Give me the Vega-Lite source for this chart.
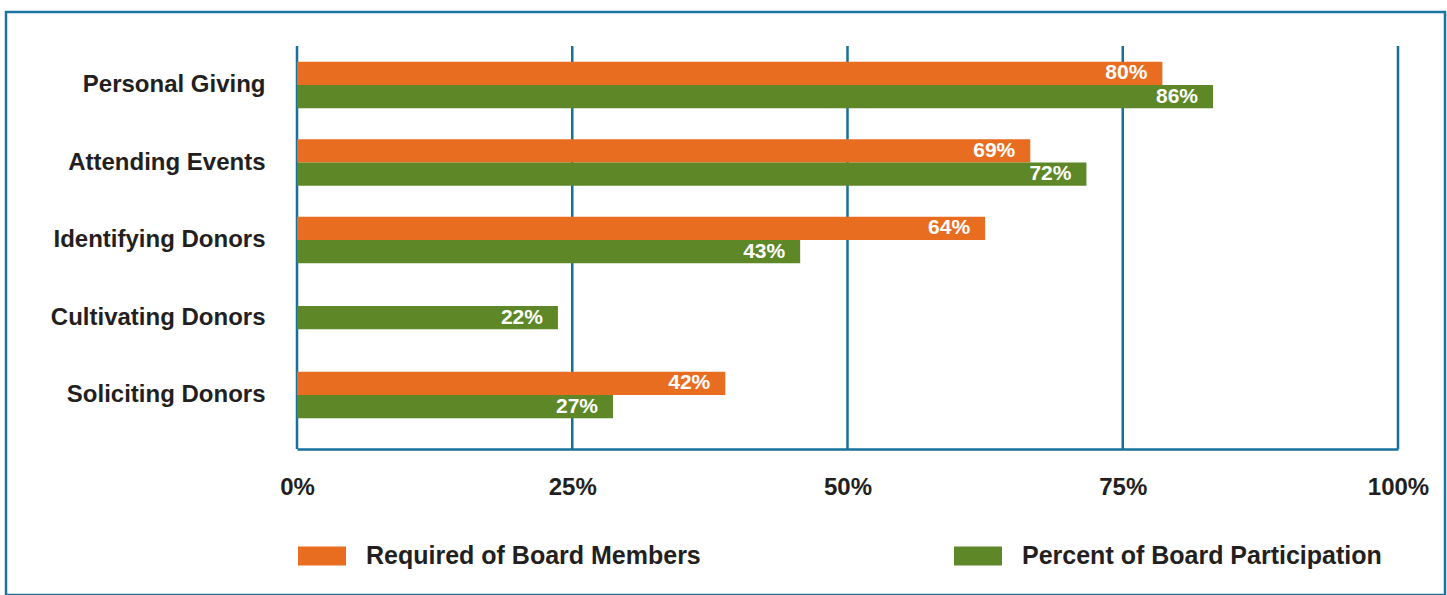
{
  "$schema": "https://vega.github.io/schema/vega-lite/v6.json",
  "width": 1439,
  "height": 583,
  "autosize": {"type": "none"},
  "padding": {"left": 6, "top": 12, "right": 2, "bottom": 0},
  "background": "white",
  "config": {
    "view": {"stroke": "#1C74A0", "strokeWidth": 2.5},
    "font": "Liberation Sans"
  },
  "data": {
    "values": [
      {"category": "Personal Giving", "series": "Required of Board Members", "pct": 78.6, "label": "80%"},
      {"category": "Personal Giving", "series": "Percent of Board Participation", "pct": 83.2, "label": "86%"},
      {"category": "Attending Events", "series": "Required of Board Members", "pct": 66.6, "label": "69%"},
      {"category": "Attending Events", "series": "Percent of Board Participation", "pct": 71.7, "label": "72%"},
      {"category": "Identifying Donors", "series": "Required of Board Members", "pct": 62.5, "label": "64%"},
      {"category": "Identifying Donors", "series": "Percent of Board Participation", "pct": 45.7, "label": "43%"},
      {"category": "Cultivating Donors", "series": "Percent of Board Participation", "pct": 23.7, "label": "22%"},
      {"category": "Soliciting Donors", "series": "Required of Board Members", "pct": 38.9, "label": "42%"},
      {"category": "Soliciting Donors", "series": "Percent of Board Participation", "pct": 28.7, "label": "27%"}
    ]
  },
  "encoding": {
    "x": {
      "field": "pct",
      "type": "quantitative",
      "scale": {"domain": [0, 100], "range": [291, 1392], "nice": false, "zero": true},
      "title": null,
      "axis": {
        "orient": "bottom",
        "offset": -146,
        "values": [0, 25, 50, 75, 100],
        "labelExpr": "datum.value + '%'",
        "labelFlush": false,
        "domain": true,
        "domainColor": "#17709A",
        "domainWidth": 2.5,
        "ticks": false,
        "grid": false,
        "labelPadding": 26,
        "labelFontSize": 24,
        "labelFont": "Liberation Sans",
        "labelFontWeight": "bold",
        "labelColor": "#231F20"
      }
    }
  },
  "layer": [
    {
      "data": {"values": [{"pct": 0}, {"pct": 25}, {"pct": 50}, {"pct": 75}, {"pct": 100}]},
      "mark": {"type": "rule", "strokeWidth": 2.5, "color": "#17709A"},
      "encoding": {
        "y": {"datum": 0, "type": "quantitative", "scale": {"domain": [0, 1], "range": [34, 437], "nice": false, "zero": false}, "axis": null},
        "y2": {"datum": 1}
      }
    },
    {
      "encoding": {
        "y": {
          "field": "category",
          "type": "nominal",
          "sort": ["Personal Giving", "Attending Events", "Identifying Donors", "Cultivating Donors", "Soliciting Donors"],
          "scale": {"range": [34, 437], "paddingInner": 0.4, "paddingOuter": 0.3, "align": 0.339},
          "title": null,
          "axis": {
            "orient": "left",
            "offset": -291,
            "domain": false,
            "ticks": false,
            "grid": false,
            "labelPadding": 32,
            "labelFontSize": 24,
            "labelFont": "Liberation Sans",
            "labelFontWeight": "bold",
            "labelColor": "#231F20",
            "labelLimit": 400
          }
        },
        "color": {
          "field": "series",
          "type": "nominal",
          "scale": {
            "domain": ["Required of Board Members", "Percent of Board Participation"],
            "range": ["#E96D20", "#5E8728"]
          },
          "legend": {
            "orient": "none",
            "legendX": 292,
            "legendY": 520,
            "direction": "horizontal",
            "title": null,
            "symbolType": "M-1,-0.4H1V0.4H-1Z",
            "symbolSize": 2304,
            "symbolStrokeWidth": 0,
            "symbolOpacity": 1,
            "labelFontSize": 25,
            "labelFont": "Liberation Sans",
            "labelFontWeight": "bold",
            "labelColor": "#231F20",
            "labelOffset": 20,
            "columnPadding": 253,
            "labelLimit": 600
          }
        }
      },
      "layer": [
        {
          "transform": [
            {"joinaggregate": [{"op": "count", "as": "n"}], "groupby": ["category"]},
            {"filter": "datum.n == 2"}
          ],
          "mark": {"type": "bar", "opacity": 1},
          "encoding": {
            "yOffset": {
              "field": "series",
              "type": "nominal",
              "scale": {"domain": ["Required of Board Members", "Percent of Board Participation"], "paddingInner": 0, "paddingOuter": 0}
            }
          }
        },
        {
          "transform": [
            {"joinaggregate": [{"op": "count", "as": "n"}], "groupby": ["category"]},
            {"filter": "datum.n == 2"}
          ],
          "mark": {"type": "text", "align": "right", "baseline": "middle", "dx": -15, "fontSize": 21, "fontWeight": "bold", "font": "Liberation Sans"},
          "encoding": {
            "yOffset": {
              "field": "series",
              "type": "nominal",
              "scale": {"domain": ["Required of Board Members", "Percent of Board Participation"], "paddingInner": 0, "paddingOuter": 0}
            },
            "text": {"field": "label", "type": "nominal"},
            "color": {"value": "white"}
          }
        },
        {
          "transform": [
            {"joinaggregate": [{"op": "count", "as": "n"}], "groupby": ["category"]},
            {"filter": "datum.n == 1"}
          ],
          "mark": {"type": "bar", "height": {"band": 0.5}, "opacity": 1}
        },
        {
          "transform": [
            {"joinaggregate": [{"op": "count", "as": "n"}], "groupby": ["category"]},
            {"filter": "datum.n == 1"}
          ],
          "mark": {"type": "text", "align": "right", "baseline": "middle", "dx": -15, "fontSize": 21, "fontWeight": "bold", "font": "Liberation Sans"},
          "encoding": {
            "text": {"field": "label", "type": "nominal"},
            "color": {"value": "white"}
          }
        }
      ]
    }
  ],
  "resolve": {"scale": {"y": "independent"}, "axis": {"y": "independent"}}
}
